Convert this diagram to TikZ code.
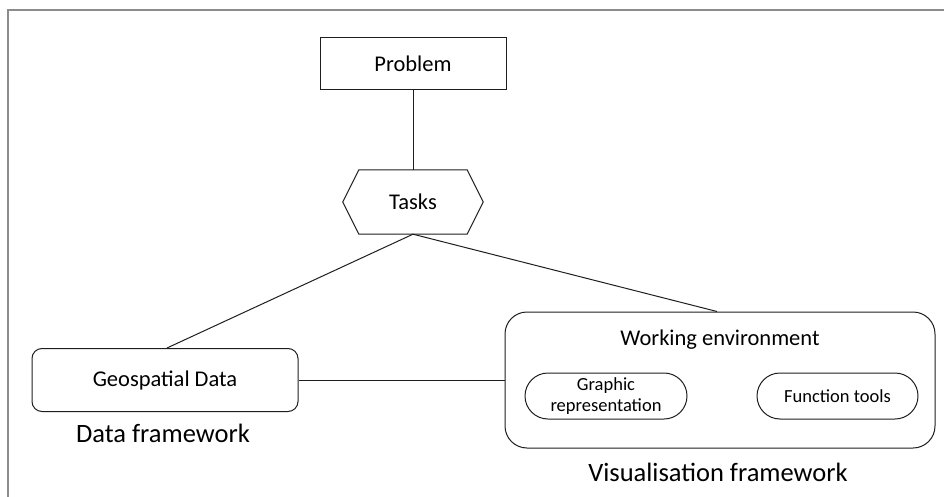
\documentclass[tikz,border=0pt]{standalone}
\usepackage{fontspec}
\setmainfont{Carlito}
\definecolor{framegray}{RGB}{140,140,140}
\definecolor{ink}{RGB}{30,30,30}
\tikzset{
  box/.style={draw=ink, line width=1pt, inner sep=0pt, font=\fontsize{22.5}{26}\selectfont},
  pill/.style={box, rounded corners=23pt, minimum height=46pt, font=\fontsize{18.5}{21}\selectfont, align=center},
  caption/.style={inner sep=0pt, font=\fontsize{26.5}{30}\selectfont},
  link/.style={draw=ink, line width=1pt},
}
\begin{document}
\begin{tikzpicture}[x=1pt, y=-1pt]
\useasboundingbox (0,0) rectangle (944,497);
% frame
\draw[framegray, line width=2pt] (944,10) -- (8,10) -- (8,497);

% problem and tasks
\node[box, minimum width=186pt, minimum height=52pt] (problem) at (413,64) {Problem};
\node[inner sep=0pt, minimum width=108pt, minimum height=64pt, font=\fontsize{22.5}{26}\selectfont] (tasks) at (413,202) {Tasks};
\draw[ink, line width=1pt] (tasks.north west) -- (tasks.north east) -- ([xshift=16pt]tasks.east)
  -- (tasks.south east) -- (tasks.south west) -- ([xshift=-16pt]tasks.west) -- cycle;

% data framework
\node[box, rounded corners=10pt, minimum width=266pt, minimum height=63pt] (geo) at (165,380) {Geospatial Data};
\node[caption] (datacap) at (163,433) {Data framework};

% visualisation framework
\node[box, rounded corners=22pt, minimum width=430pt, minimum height=136pt] (we) at (720,380) {};
\node[inner sep=0pt, font=\fontsize{22.5}{26}\selectfont] (wetitle) at (720,340) {Working environment};
\node[pill, minimum width=162pt] (graphic) at (606,396) {Graphic\\representation};
\node[pill, minimum width=161pt] (tools) at (837.5,396) {Function tools};
\node[caption] (viscap) at (718,472) {Visualisation framework};

% connectors
\path[link] (problem.south) -- (tasks.north);
\path[link] (tasks.south) -- ([xshift=2pt]geo.north);
\path[link] (tasks.south) -- ([xshift=-3pt]we.north);
\path[link] (geo.east) -- (we.west);
\end{tikzpicture}
\end{document}
